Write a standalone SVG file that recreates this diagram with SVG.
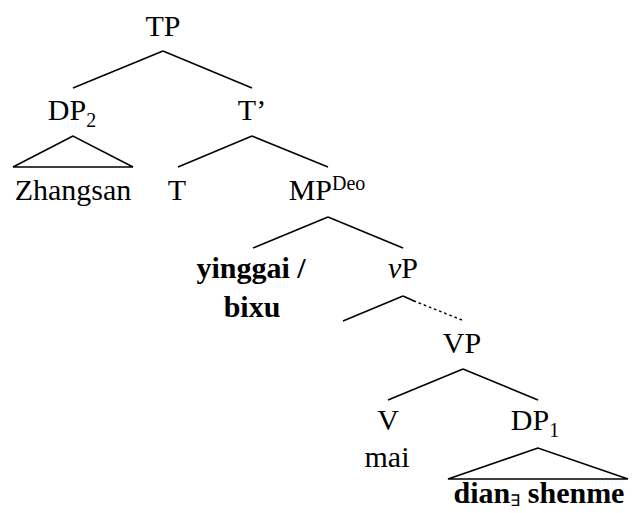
<svg xmlns="http://www.w3.org/2000/svg" width="632" height="513" viewBox="0 0 632 513">
<style>
text{font-family:"Liberation Serif","Times New Roman",serif;font-size:30px;fill:#000;text-anchor:middle}
.b{font-weight:bold}
.s{font-size:20px}
line,polygon{stroke:#000;stroke-width:1.5;fill:none}
</style>
<rect width="632" height="513" fill="#fff"/>
<g id="connectors">
<line x1="163" y1="51" x2="73" y2="88"/>
<line x1="163" y1="51" x2="252" y2="88"/>
<polygon points="73,136 13,167 133,167"/>
<line x1="252" y1="136" x2="178" y2="167"/>
<line x1="252" y1="136" x2="328" y2="167"/>
<line x1="328" y1="217" x2="253" y2="248"/>
<line x1="328" y1="217" x2="403" y2="248"/>
<line x1="403" y1="296" x2="343" y2="321"/>
<line x1="403" y1="296" x2="414" y2="301"/>
<line x1="414" y1="301" x2="462" y2="320" stroke-dasharray="1.5,4" stroke-linecap="round"/>
<line x1="463" y1="369" x2="388" y2="400"/>
<line x1="463" y1="369" x2="538" y2="400"/>
<polygon points="538,448 448,479 628,479"/>
</g>
<g id="TP"><text x="163" y="36">TP</text></g>
<g id="DP2"><text x="72" y="120">DP<tspan class="s" dy="7">2</tspan></text></g>
<g id="Tbar"><text x="252" y="120">T’</text></g>
<g id="Zhangsan"><text x="73" y="200">Zhangsan</text></g>
<g id="T"><text x="177" y="200">T</text></g>
<g id="MP"><text x="327" y="200">MP<tspan class="s" dy="-10">Deo</tspan></text></g>
<g id="yinggai"><text class="b" x="251" y="278">yinggai /</text><text class="b" x="252" y="317">bixu</text></g>
<g id="vP"><text x="403" y="278"><tspan font-style="italic">v</tspan>P</text></g>
<g id="VP"><text x="462" y="353">VP</text></g>
<g id="V"><text x="388" y="430">V</text><text x="387" y="467">mai</text></g>
<g id="DP1"><text x="535" y="430">DP<tspan class="s" dy="7">1</tspan></text></g>
<g id="dian"><text class="b" x="539" y="503">dian<tspan font-size="16" dy="3" font-weight="normal">∃</tspan><tspan dy="-3"> shenme</tspan></text></g>
</svg>
